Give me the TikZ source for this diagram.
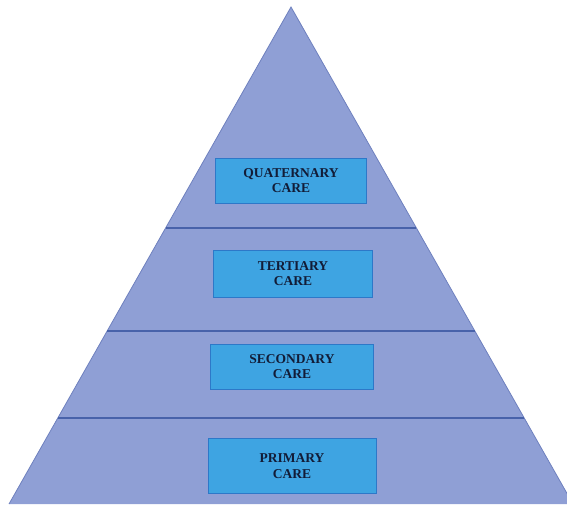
\documentclass[tikz,border=0pt]{standalone}
\usepackage{fontspec}
\setmainfont{Liberation Serif}
\usetikzlibrary{calc}
\definecolor{pyrfill}{RGB}{143,159,213}
\definecolor{pyredge}{RGB}{110,128,190}
\definecolor{tierline}{RGB}{72,98,170}
\definecolor{boxfill}{RGB}{62,164,226}
\definecolor{boxedge}{RGB}{45,120,200}
\definecolor{boxtext}{RGB}{18,28,55}
\begin{document}
\begin{tikzpicture}[x=1pt,y=-1pt,
  levelbox/.style={draw=boxedge, line width=1pt, fill=boxfill, inner sep=0pt,
    font=\bfseries\fontsize{13.5}{15.5}\selectfont, text=boxtext, align=center},
  tier/.style={draw=tierline, line width=1.1pt}]
  \useasboundingbox (0,0) rectangle (567,504);
  \begin{scope}
    \clip (0,0) rectangle (567,504);
    % pyramid body
    \coordinate (apex) at (291,7);
    \coordinate (bl) at (9,504);
    \coordinate (br) at (573,504);
    \fill[pyrfill] (apex) -- (br) -- (bl) -- cycle;
    \draw[pyredge, line width=0.8pt] (bl) -- (apex) -- (br);
    % tier dividers
    \foreach \y/\n in {228/a,331/b,418/c}{
      \coordinate (l\n) at ($(apex)!{(\y-7)/497}!(bl)$);
      \coordinate (r\n) at ($(apex)!{(\y-7)/497}!(br)$);
      \draw[tier] (l\n) -- (r\n);
    }
  \end{scope}
  % level labels
  \node[levelbox, minimum width=151pt, minimum height=45pt] (quat) at (291,180.5) {QUATERNARY\\CARE};
  \node[levelbox, minimum width=159pt, minimum height=47pt] (tert) at (293,273.5) {TERTIARY\\CARE};
  \node[levelbox, minimum width=163pt, minimum height=45pt] (sec) at (292,366.5) {SECONDARY\\CARE};
  \node[levelbox, minimum width=168pt, minimum height=55pt] (prim) at (292,466) {PRIMARY\\CARE};
\end{tikzpicture}
\end{document}
